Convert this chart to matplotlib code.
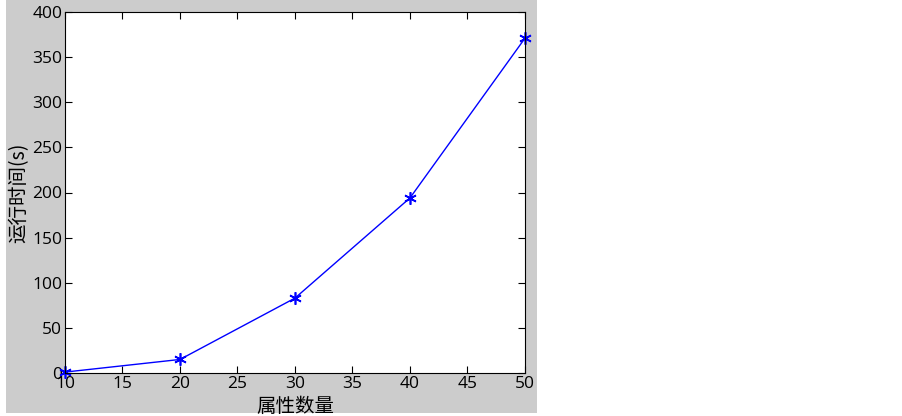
import matplotlib
matplotlib.use("Agg")
import matplotlib.pyplot as plt
from matplotlib.patches import Rectangle

plt.rcParams['font.family'] = ['Open Sans', 'Noto Sans CJK SC', 'DejaVu Sans']

attr_counts = [10, 20, 30, 40, 50]
run_times = [1, 15, 83, 194, 371]
x_ticks = [10, 15, 20, 25, 30, 35, 40, 45, 50]
y_ticks = [0, 50, 100, 150, 200, 250, 300, 350, 400]

W, H = 903, 416
fig = plt.figure(figsize=(W / 100, H / 100), dpi=100, facecolor='white')
fig.patches.append(Rectangle((6 / W, 3 / H), (537 - 6) / W, (H - 3) / H,
                             transform=fig.transFigure, facecolor='#cccccc',
                             edgecolor='none', zorder=-10))

ax = fig.add_axes([65 / W, (H - 373) / H, (525 - 65) / W, (373 - 12) / H])
ax.set_facecolor('white')
ax.plot(attr_counts, run_times, color='#0000ff', lw=1, marker=(6, 2, 0),
        markersize=9, markeredgewidth=1.2, clip_on=False)
ax.set_xlim(10, 50)
ax.set_ylim(0, 400)
ax.set_xticks(x_ticks)
ax.set_yticks(y_ticks)
ax.tick_params(direction='in', top=True, right=True, length=5, width=0.8,
               labelsize=12.5, pad=2, colors='black')
for s in ax.spines.values():
    s.set_linewidth(0.8)
ax.set_xlabel('属性数量', fontsize=14, family=['Noto Sans CJK SC'], labelpad=3)
ax.set_ylabel('运行时间(s)', fontsize=14, family=['Noto Sans CJK SC', 'DejaVu Sans'], labelpad=2)

fig.savefig('out.png', dpi=100, facecolor='white')
